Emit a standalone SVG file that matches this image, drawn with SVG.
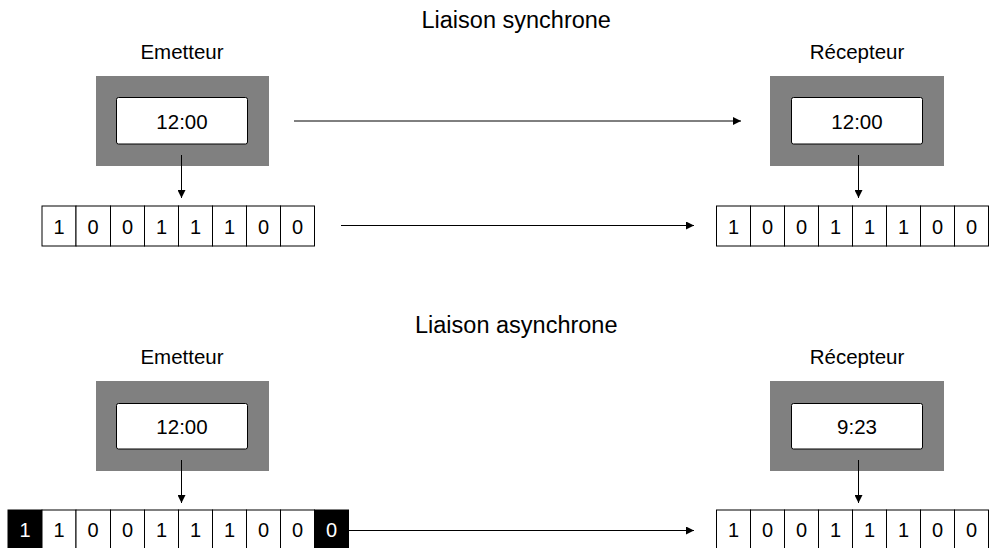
<svg xmlns="http://www.w3.org/2000/svg" width="996" height="548" viewBox="0 0 996 548">
<defs>
<marker id="ah" viewBox="0 0 10 10" refX="10" refY="5" markerWidth="8" markerHeight="8" markerUnits="userSpaceOnUse" orient="auto">
<path d="M0,0 L10,5 L0,10 z" fill="#000"/>
</marker>
</defs>
<style>
text{font-family:"Liberation Sans",Arial,sans-serif;fill:#000}
.title{font-size:23.5px}
.lbl{font-size:20.5px;text-anchor:middle}
.bit{font-size:20px;text-anchor:middle}
.frame{fill:#808080}
.screen{fill:#fff;stroke:#000;stroke-width:1}
.cell{fill:#fff;stroke:#000;stroke-width:1}
.blk{fill:#000;stroke:#000;stroke-width:1}
.wt{fill:#fff}
.conn line{stroke:#000;stroke-width:1;marker-end:url(#ah)}
</style>
<rect width="996" height="548" fill="#fff"/>

<text class="title" x="421.5" y="28">Liaison synchrone</text>
<text class="title" x="415" y="333">Liaison asynchrone</text>

<g id="emetteur-sync">
<text class="lbl" x="182" y="59">Emetteur</text>
<rect class="frame" x="96" y="76" width="173" height="90"/>
<rect class="screen" x="116.5" y="97.5" width="131" height="46.5" rx="2"/>
<text class="lbl" x="182" y="128.5">12:00</text>
</g>

<g id="recepteur-sync">
<text class="lbl" x="857" y="59">Récepteur</text>
<rect class="frame" x="770" y="76" width="174" height="90"/>
<rect class="screen" x="791.5" y="97.5" width="131" height="46.5" rx="2"/>
<text class="lbl" x="857" y="128.5">12:00</text>
</g>

<g id="bits-emetteur-sync">
<rect class="cell" x="42" y="206" width="34" height="40"/>
<rect class="cell" x="76" y="206" width="34.5" height="40"/>
<rect class="cell" x="110.5" y="206" width="34" height="40"/>
<rect class="cell" x="144.5" y="206" width="34" height="40"/>
<rect class="cell" x="178.5" y="206" width="34" height="40"/>
<rect class="cell" x="212.5" y="206" width="34" height="40"/>
<rect class="cell" x="246.5" y="206" width="34" height="40"/>
<rect class="cell" x="280.5" y="206" width="34" height="40"/>
<text class="bit" x="59" y="233.5">1</text>
<text class="bit" x="93" y="233.5">0</text>
<text class="bit" x="127.5" y="233.5">0</text>
<text class="bit" x="161.5" y="233.5">1</text>
<text class="bit" x="195.5" y="233.5">1</text>
<text class="bit" x="229.5" y="233.5">1</text>
<text class="bit" x="263.5" y="233.5">0</text>
<text class="bit" x="297.5" y="233.5">0</text>
</g>

<g id="bits-recepteur-sync">
<rect class="cell" x="716.5" y="206" width="34" height="40"/>
<rect class="cell" x="750.5" y="206" width="34" height="40"/>
<rect class="cell" x="784.5" y="206" width="34" height="40"/>
<rect class="cell" x="818.5" y="206" width="34" height="40"/>
<rect class="cell" x="852.5" y="206" width="34" height="40"/>
<rect class="cell" x="886.5" y="206" width="34" height="40"/>
<rect class="cell" x="920.5" y="206" width="34" height="40"/>
<rect class="cell" x="954.5" y="206" width="34" height="40"/>
<text class="bit" x="733.5" y="233.5">1</text>
<text class="bit" x="767.5" y="233.5">0</text>
<text class="bit" x="801.5" y="233.5">0</text>
<text class="bit" x="835.5" y="233.5">1</text>
<text class="bit" x="869.5" y="233.5">1</text>
<text class="bit" x="903.5" y="233.5">1</text>
<text class="bit" x="937.5" y="233.5">0</text>
<text class="bit" x="971.5" y="233.5">0</text>
</g>

<g id="emetteur-async">
<text class="lbl" x="182" y="364">Emetteur</text>
<rect class="frame" x="96" y="381" width="173" height="90"/>
<rect class="screen" x="116.5" y="403.5" width="131" height="45.5" rx="2"/>
<text class="lbl" x="182" y="433.5">12:00</text>
</g>

<g id="recepteur-async">
<text class="lbl" x="857" y="364">Récepteur</text>
<rect class="frame" x="770" y="381" width="174" height="90"/>
<rect class="screen" x="791.5" y="403.5" width="131" height="45.5" rx="2"/>
<text class="lbl" x="857" y="433.5">9:23</text>
</g>

<g id="bits-emetteur-async">
<rect class="blk" x="8" y="510" width="34" height="40"/>
<rect class="cell" x="42" y="510" width="34" height="40"/>
<rect class="cell" x="76" y="510" width="34.5" height="40"/>
<rect class="cell" x="110.5" y="510" width="34" height="40"/>
<rect class="cell" x="144.5" y="510" width="34" height="40"/>
<rect class="cell" x="178.5" y="510" width="34" height="40"/>
<rect class="cell" x="212.5" y="510" width="34" height="40"/>
<rect class="cell" x="246.5" y="510" width="34" height="40"/>
<rect class="cell" x="280.5" y="510" width="34" height="40"/>
<rect class="blk" x="314.5" y="510" width="34" height="40"/>
<text class="bit wt" x="25" y="537">1</text>
<text class="bit" x="59" y="537">1</text>
<text class="bit" x="93" y="537">0</text>
<text class="bit" x="127.5" y="537">0</text>
<text class="bit" x="161.5" y="537">1</text>
<text class="bit" x="195.5" y="537">1</text>
<text class="bit" x="229.5" y="537">1</text>
<text class="bit" x="263.5" y="537">0</text>
<text class="bit" x="297.5" y="537">0</text>
<text class="bit wt" x="331.5" y="537">0</text>
</g>

<g id="bits-recepteur-async">
<rect class="cell" x="716.5" y="510" width="34" height="40"/>
<rect class="cell" x="750.5" y="510" width="34" height="40"/>
<rect class="cell" x="784.5" y="510" width="34" height="40"/>
<rect class="cell" x="818.5" y="510" width="34" height="40"/>
<rect class="cell" x="852.5" y="510" width="34" height="40"/>
<rect class="cell" x="886.5" y="510" width="34" height="40"/>
<rect class="cell" x="920.5" y="510" width="34" height="40"/>
<rect class="cell" x="954.5" y="510" width="34" height="40"/>
<text class="bit" x="733.5" y="537">1</text>
<text class="bit" x="767.5" y="537">0</text>
<text class="bit" x="801.5" y="537">0</text>
<text class="bit" x="835.5" y="537">1</text>
<text class="bit" x="869.5" y="537">1</text>
<text class="bit" x="903.5" y="537">1</text>
<text class="bit" x="937.5" y="537">0</text>
<text class="bit" x="971.5" y="537">0</text>
</g>

<g id="connectors" class="conn">
<line x1="294" y1="121" x2="741" y2="121"/>
<line x1="341" y1="225.5" x2="694" y2="225.5"/>
<line x1="341" y1="530.5" x2="694" y2="530.5"/>
<line x1="181.5" y1="155" x2="181.5" y2="198"/>
<line x1="858.5" y1="155" x2="858.5" y2="198"/>
<line x1="181.5" y1="460" x2="181.5" y2="503"/>
<line x1="858.5" y1="460" x2="858.5" y2="503"/>
</g>
</svg>
